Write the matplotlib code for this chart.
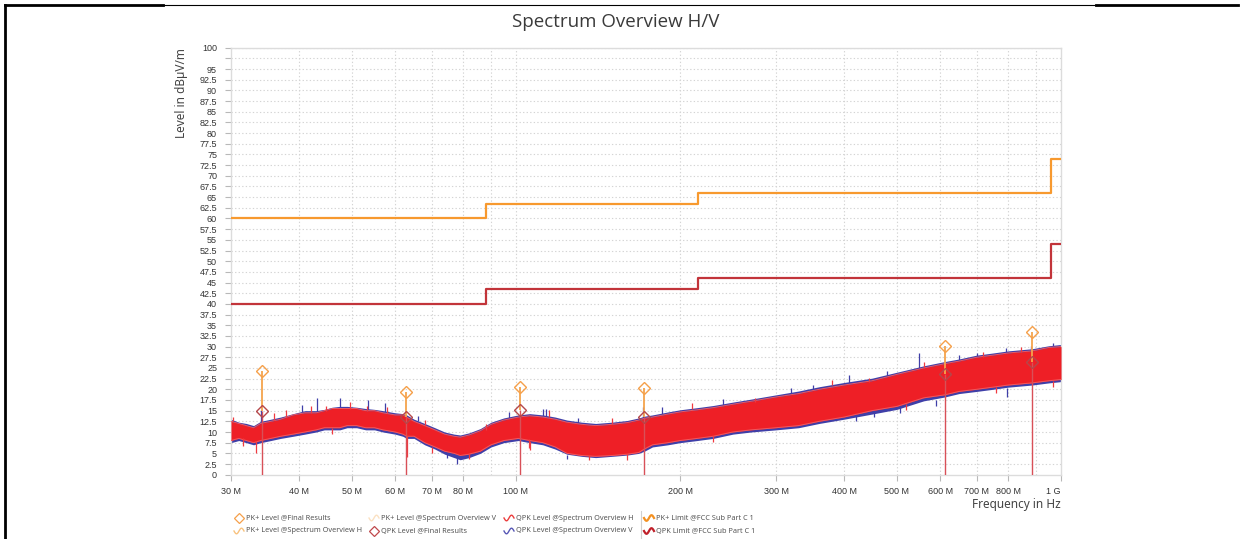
import matplotlib
matplotlib.use("Agg")
import matplotlib.pyplot as plt
from matplotlib.lines import Line2D
import numpy as np

# ---------------- data ----------------
# spectrum envelopes (MHz, dBuV/m)
spec_freq = [30, 31, 32, 33, 34, 35.5, 37, 39, 41, 43, 44.5, 46, 47.5, 49, 51, 53, 55, 57,
             60, 62, 63, 65, 68, 71, 74, 77, 79, 82, 86, 90, 95, 101, 106, 112, 118, 124, 132,
             140, 150, 160, 168, 172, 178, 190, 200, 215, 230, 250, 270, 300, 330, 360, 400,
             450, 500, 560, 612, 650, 700, 750, 800, 885, 950, 1000]
h_low = [8, 8.5, 8, 7.5, 8, 8.5, 9, 9.5, 10, 10.5, 11, 11, 11, 11.5, 11.5, 11, 11, 10.5,
         10, 9.5, 9, 9, 7.5, 6.5, 5.5, 5, 4.5, 4.8, 5.5, 7, 8, 8.5, 8, 7.5, 6.5, 5, 4.5,
         4.3, 4.5, 4.8, 5.2, 6, 7, 7.5, 8, 8.5, 9, 10, 10.5, 11, 11.5, 12.5, 13.5,
         15, 16, 18, 18.7, 19.5, 20, 20.5, 21, 21.5, 22, 22.3]
h_high = [12.5, 12, 11.5, 11, 12, 12.5, 13, 14, 14.5, 14.5, 15, 15.5, 15.5, 15.5, 15.5, 15, 15, 14.5,
          14, 14, 13.5, 12.5, 11.5, 10.5, 9.5, 9, 8.8, 9.3, 10.3, 11.8, 12.8, 13.5, 13.8, 13.5, 13, 12.3, 11.8,
          11.5, 11.8, 12.2, 12.8, 13.2, 13.5, 14.2, 14.7, 15.2, 15.7, 16.5, 17.2, 18.2, 19, 20, 21,
          22, 23.5, 25, 26, 26.6, 27.5, 28, 28.5, 29, 29.8, 30]
v_low = [7.5, 8, 7.5, 7, 7.5, 8, 8.5, 9, 9.5, 10, 10.5, 10.5, 10.5, 11, 11, 10.5, 10.5, 10,
         9.5, 9, 8.5, 8.5, 7, 6, 4.8, 4, 3.5, 4, 5, 6.5, 7.5, 8, 7.5, 7, 6, 4.8, 4.3,
         4, 4.3, 4.6, 5, 5.5, 6.5, 7, 7.5, 8, 8.5, 9.5, 10, 10.5, 11, 12, 13,
         14.2, 15.3, 17.3, 18.2, 19, 19.5, 20, 20.5, 21, 21.5, 21.8]
v_high = [13, 12.3, 12, 11.5, 12.5, 13, 13.5, 14.3, 15, 15, 15.3, 15.8, 16, 16, 15.8, 15.5, 15.3, 15,
          14.5, 14.3, 14, 13, 12, 11, 10, 9.5, 9.3, 9.8, 10.8, 12.3, 13.3, 14, 14.3, 14, 13.5, 12.8, 12.3,
          12, 12.3, 12.7, 13.3, 13.7, 14, 14.7, 15.2, 15.7, 16.2, 17, 17.7, 18.7, 19.6, 20.6, 21.6,
          22.6, 24, 25.5, 26.5, 27.1, 28, 28.5, 29, 29.5, 30.2, 30.5]

# individual spikes: (freq MHz, base, tip)
spike_v_freq = [34.0, 43.1, 47.5, 53.6, 112, 113.5, 171, 350, 409, 549, 700, 791, 968,
                40.5, 57.5, 66, 97, 130, 185, 240, 320, 480, 650, 880,
                74.6, 77.8, 124, 453, 507, 796, 420, 590]
spike_v_base = [12, 14.5, 15.5, 15, 13.5, 13.5, 13.2, 19.5, 21.5, 25, 27.3, 28.5, 30,
                14.5, 14.5, 12.5, 13, 11.8, 14, 16, 18.5, 23, 26.6, 29,
                5, 4.5, 4.5, 15, 16, 20.3, 14, 17.6]
spike_v_tip = [15.2, 17.9, 17.9, 17.5, 15.5, 15.5, 15.9, 21, 23.4, 28.4, 28.4, 29.6, 30.8,
               16.3, 16.8, 13.8, 14.8, 13.2, 15.8, 17.8, 20.3, 24.2, 28, 30.2,
               3.8, 2.4, 3.6, 13.6, 14.4, 18.3, 12.6, 16.2]
spike_h_freq = [30.2, 37.9, 44.9, 49.6, 53.2, 115, 275, 444, 33.4, 63.0, 106, 136, 105.5, 968,
                36, 42, 58, 68, 88, 150, 210, 380, 560, 720, 845,
                31.5, 46, 70, 82, 160, 230, 520, 760]
spike_h_base = [12.5, 13.5, 15, 15.5, 15, 13.5, 17, 21.8, 8, 9, 8, 4.5, 8.3, 22,
                12.8, 14.5, 14.5, 11.5, 10.5, 11.8, 15.5, 21, 25, 27.6, 28.8,
                8.5, 11, 6.5, 4.8, 4.8, 9, 16.5, 20.5]
spike_h_tip = [13.6, 15.2, 16, 17.1, 16, 15.2, 17.9, 22.6, 5, 4.2, 5.8, 3.4, 6.2, 20.6,
               14.5, 16, 15.8, 12.8, 11.8, 13.2, 16.8, 22.2, 26.3, 28.8, 29.8,
               6.8, 9.5, 5, 3.6, 3.5, 7.6, 15.2, 19.2]

# final results
final_freq = [34.2, 62.9, 101.7, 171.7, 612.6, 884.8]
pk_final = [24.3, 19.3, 20.5, 20.2, 30.1, 33.4]
qpk_final = [15.0, 13.5, 15.1, 13.4, 23.6, 26.4]

# limits (FCC)
limit_edges = [30, 88, 216, 960, 1000]
pk_limit = [60, 63.5, 66, 74, 74]
qpk_limit = [40, 43.5, 46, 54, 54]

# ticks
x_tick_vals = [30, 40, 50, 60, 70, 80, 100, 200, 300, 400, 500, 600, 700, 800, 1000]
x_tick_labels = ["30 M", "40 M", "50 M", "60 M", "70 M", "80 M", "100 M", "200 M", "300 M",
                 "400 M", "500 M", "600 M", "700 M", "800 M", "1 G"]
x_grid_vals = [40, 50, 60, 70, 80, 90, 100, 200, 300, 400, 500, 600, 700, 800, 900]
y_tick_vals = [i * 2.5 for i in range(41)]

legend_col1 = ["PK+ Level @Final Results", "PK+ Level @Spectrum Overview H"]
legend_col2 = ["PK+ Level @Spectrum Overview V", "QPK Level @Final Results"]
legend_col3 = ["QPK Level @Spectrum Overview H", "QPK Level @Spectrum Overview V"]
legend_col4 = ["PK+ Limit @FCC Sub Part C 1", "QPK Limit @FCC Sub Part C 1"]

# ---------------- figure ----------------
W, H = 1256, 539
fig = plt.figure(figsize=(W / 100, H / 100), dpi=100)
fig.patch.set_facecolor("white")

def px(x, y):
    return x / W, 1 - y / H

ax = fig.add_axes([231 / W, 1 - 474.7 / H, (1061 - 231) / W, (474.7 - 47.7) / H])
ax.set_xscale("log")
ax.set_xlim(30, 1000)
ax.set_ylim(0, 100)

for s in ax.spines.values():
    s.set_color("#dcdcdc")
    s.set_linewidth(1.0)

# grid
for gx in x_grid_vals:
    ax.axvline(gx, color="#d4d4d4", lw=0.8, ls=(0, (1.2, 2.0)), zorder=0)
for gy in y_tick_vals[1:]:
    ax.axhline(gy, color="#d4d4d4", lw=0.8, ls=(0, (1.2, 2.0)), zorder=0)

# spectrum bands
blue = "#3f3fa8"
red = "#ee1f26"
ax.fill_between(spec_freq, v_low, v_high, color=blue, lw=0, zorder=2)
ax.vlines(spike_v_freq, spike_v_base, spike_v_tip, color=blue, lw=0.9, zorder=2)
ax.fill_between(spec_freq, h_low, h_high, color=red, lw=0, zorder=3)
ax.plot(spec_freq, h_high, color="#f05a60", lw=0.7, zorder=3)
ax.plot(spec_freq, h_low, color="#f05a60", lw=0.7, zorder=3)
ax.vlines(spike_h_freq, spike_h_base, spike_h_tip, color="#f03a40", lw=0.9, zorder=3)

# limits
ax.step(limit_edges, pk_limit, where="post", color="#f7992e", lw=1.6, zorder=4)
ax.step(limit_edges, qpk_limit, where="post", color="#c2343a", lw=1.6, zorder=4)

# stems and final markers
ax.vlines(final_freq, qpk_final, pk_final, color="#f5a44c", lw=1.3, zorder=5)
ax.vlines(final_freq, 0, qpk_final, color="#d85058", lw=1.0, zorder=5)
ax.plot(final_freq, qpk_final, ls="none", marker="D", ms=6.5, mfc="none", mec="#b5474a",
        mew=1.0, zorder=6)
ax.plot(final_freq, pk_final, ls="none", marker="D", ms=6.5, mfc="none", mec="#f5a04a",
        mew=1.0, zorder=6)

# ticks
ax.xaxis.set_minor_locator(matplotlib.ticker.NullLocator())
ax.set_xticks(x_tick_vals)
ax.set_xticklabels(x_tick_labels)
ax.set_yticks(y_tick_vals)
ylabels = [("%g" % v) if v != 97.5 else "" for v in y_tick_vals]
ax.set_yticklabels(ylabels)
ax.tick_params(axis="both", colors="#b8b8b8", labelcolor="#333333", labelsize=6.5,
               length=4, width=0.8)
ax.tick_params(axis="x", pad=5)
ax.tick_params(axis="y", pad=6)
for lab in ax.get_xticklabels() + ax.get_yticklabels():
    lab.set_fontfamily("Liberation Sans")
ax.get_xticklabels()[-1].set_horizontalalignment("right")

ax.set_ylabel("Level in dBµV/m", loc="top", fontsize=8.5, color="#444444",
              fontfamily="Noto Sans", labelpad=8)
ax.set_xlabel("Frequency in Hz", loc="right", fontsize=8.5, color="#444444",
              fontfamily="Noto Sans", labelpad=1)

# title
fig.text(*px(616, 22), "Spectrum Overview H/V", ha="center", va="center", fontsize=13.5,
         color="#3a3a3a", fontfamily="Open Sans")

# frame lines
fig.add_artist(Line2D([5 / W, 5 / W], [1 - 5 / H, 0], color="black", lw=2.0))
fig.add_artist(Line2D([5 / W, 163 / W], [1 - 5 / H, 1 - 5 / H], color="black", lw=2.0))
fig.add_artist(Line2D([163 / W, 1096 / W], [1 - 5 / H, 1 - 5 / H], color="black", lw=0.8))
fig.add_artist(Line2D([1096 / W, 1238 / W], [1 - 5 / H, 1 - 5 / H], color="black", lw=2.0))

# legend (manual)
def wave_icon(x, y, color, lw=1.2):
    t = np.linspace(0, 1, 30)
    xs = x - 5 + 10 * t
    ys = y + 2.8 * np.sin(2 * np.pi * t + np.pi) * -1
    fig.add_artist(Line2D(xs / W, 1 - ys / H, color=color, lw=lw))

def diamond_icon(x, y, color):
    fig.add_artist(Line2D([x / W], [1 - y / H], marker="D", ms=5, mfc="none", mec=color,
                          mew=0.9, ls="none"))

rows_y = [518, 531]
col_x = [236, 371, 506, 646]
cols = [legend_col1, legend_col2, legend_col3, legend_col4]
icons = [[("d", "#f5a04a"), ("w", "#f8c27e", 1.0)],
         [("w", "#fbe1c2", 1.0), ("d", "#c0484c")],
         [("w", "#ec3d3d", 1.0), ("w", "#5757b5", 1.0)],
         [("w", "#f39020", 1.6), ("w", "#c0202a", 1.6)]]
for ci, (cx, texts) in enumerate(zip(col_x, cols)):
    for ri, (ry, txt) in enumerate(zip(rows_y, texts)):
        ic = icons[ci][ri]
        if ic[0] == "d":
            diamond_icon(cx + 3, ry, ic[1])
        else:
            wave_icon(cx + 3, ry, ic[1], lw=ic[2])
        fig.text(*px(cx + 10, ry), txt, ha="left", va="center", fontsize=5.3,
                 color="#555555", fontfamily="Noto Sans")
fig.add_artist(Line2D([641 / W, 641 / W], [1 - 511 / H, 1 - 538 / H], color="#d0d0d0", lw=0.8))

fig.savefig("out.png", dpi=100)
